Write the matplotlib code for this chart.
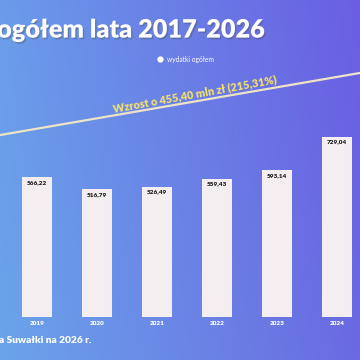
import matplotlib
matplotlib.use("Agg")
import matplotlib.pyplot as plt
import matplotlib.patheffects as pe
from matplotlib.lines import Line2D
import numpy as np

# data
years = ['2019', '2020', '2021', '2022', '2023', '2024']
values = [566.22, 516.79, 526.49, 559.43, 593.14, 729.04]
value_labels = ['566,22', '516,79', '526,49', '559,43', '593,14', '729,04']
trend_x = [-0.62, 5.38]
trend_y = [735, 986]
trend_label = 'Wzrost o 455,40 mln zł (215,31%)'
title = 'ogółem lata 2017-2026'
footer = 'a Suwałki na 2026 r.'
legend_label = 'wydatki ogółem'

plt.rcParams['font.family'] = ['Lato', 'DejaVu Sans']

fig = plt.figure(figsize=(3.6, 3.6), dpi=100)

# background gradient
bg = fig.add_axes([0, 0, 1, 1])
tl = np.array([0x6a, 0x9c, 0xea]) / 255
tr = np.array([0x6a, 0x5e, 0xe2]) / 255
bl = np.array([0x6a, 0xa4, 0xea]) / 255
br = np.array([0x6a, 0x6a, 0xe2]) / 255
u = np.linspace(0, 1, 200)[None, :, None]
v = np.linspace(0, 1, 200)[:, None, None]
grad = (1 - v) * ((1 - u) * tl + u * tr) + v * ((1 - u) * bl + u * br)
bg.imshow(grad, aspect='auto', extent=[0, 1, 0, 1])
bg.axis('off')

ax = fig.add_axes([0, 0, 1, 1])
ax.patch.set_alpha(0)
ax.axis('off')
ax.set_xlim(-0.617, 5.383)
ax.set_ylim(-174, 1281)

x = np.arange(len(years))
ax.bar(x, values, width=0.5, color='#f5eef1', zorder=2)
for xi, v_, lab in zip(x, values, value_labels):
    ax.text(xi, v_ - 22, lab, ha='center', va='center', fontsize=4.6,
            fontweight='heavy', color='#1e1e1e', zorder=3)
for xi, yr in zip(x, years):
    ax.text(xi, -25, yr, ha='center', va='center', fontsize=4.6,
            fontweight='heavy', color='white')

# trend line
ax.plot(trend_x, trend_y, color='#ede3c6', lw=1.6, zorder=2)
ax.text(2.63, 902, trend_label, ha='center', va='center', rotation=10.3,
        fontsize=7.8, fontweight='heavy', color='#f2e06a')

# title and footer
fig.text(-0.008, 0.915, title, ha='left', va='center', fontsize=18.2,
         fontweight='heavy', color='white',
         path_effects=[pe.withSimplePatchShadow(offset=(1, -1.2), alpha=0.35)])
fig.text(-0.003, 0.055, footer, ha='left', va='center', fontsize=7.3,
         fontweight='heavy', color='white')

handle = Line2D([], [], marker='o', ls='', color='white', markersize=3.5)
fig.legend([handle], [legend_label], loc='center', bbox_to_anchor=(0.515, 0.836),
           frameon=False, fontsize=4.8, labelcolor='white', handletextpad=0.6,
           handlelength=0.8)

fig.savefig('out.png', dpi=100)
